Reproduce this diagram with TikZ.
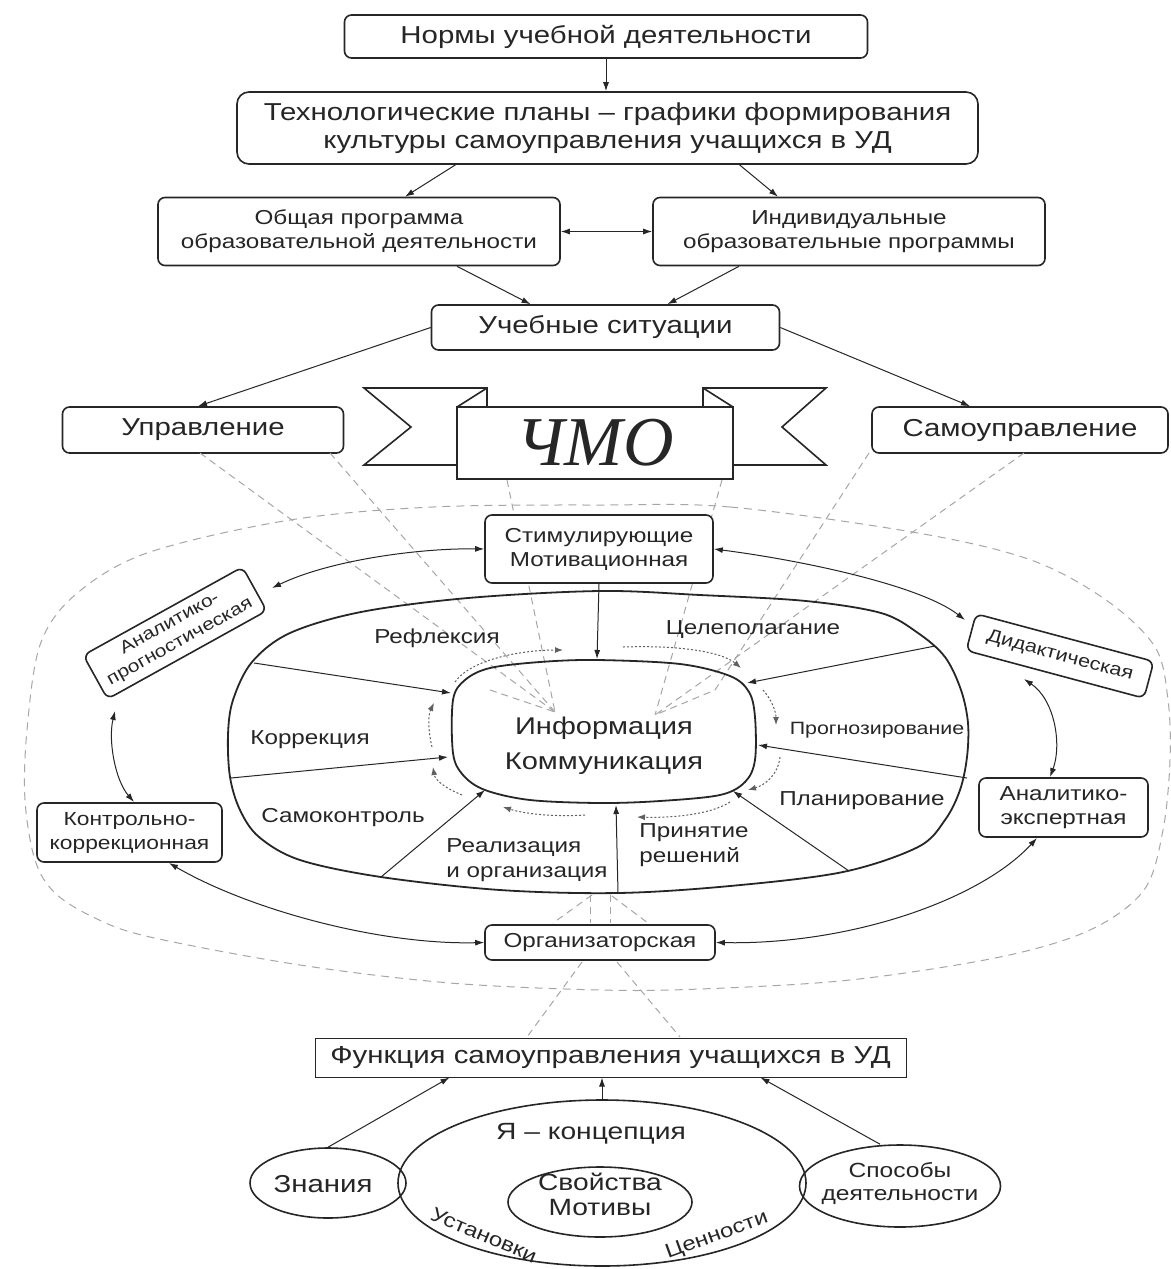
\documentclass[tikz,border=0pt]{standalone}
\usepackage{fontspec}
\setmainfont{Liberation Sans}[FakeStretch=1.2]
\newfontfamily\serifit{Liberation Serif}
\usetikzlibrary{arrows.meta,shapes.geometric}
\definecolor{ink}{HTML}{262626}
\definecolor{dashc}{HTML}{A6A6A6}
\definecolor{dotc}{HTML}{606060}
\tikzset{
  bx/.style={draw=ink, line width=1.6pt, rounded corners=7pt, fill=white, align=center, inner sep=0pt, text=ink},
  txs/.style={font=\fontsize{20.2}{24}\selectfont},
  txl/.style={font=\fontsize{24.5}{27.5}\selectfont},
  tip/.tip={Latex[length=9pt,width=6pt]},
  con/.style={draw=ink, line width=1pt, -tip},
  dcon/.style={draw=ink, line width=1pt, tip-tip},
  fan/.style={draw=dashc, line width=1pt, dash pattern=on 7pt off 5pt},
  cyc/.style={draw=dotc, line width=1pt, dash pattern=on 2pt off 2pt, -{Latex[length=8pt,width=6pt]}},
  ring/.style={draw=ink, line width=1.8pt},
  lbl/.style={font=\fontsize{20.2}{25}\selectfont, text=ink, inner sep=0pt, align=left},
  shp/.style={draw=ink, line width=1.6pt, ellipse, inner sep=0pt},
}
\begin{document}
\begin{tikzpicture}[x=1pt,y=-1pt]
\fill[white] (0,0) rectangle (1170,1269);
\useasboundingbox (0,0) rectangle (1170,1269);

% big dashed ellipse
\draw[fan, dash pattern=on 8pt off 6pt] plot[smooth cycle, tension=0.55] coordinates {(600,505) (730,507) (918,533) (1031,560) (1106,600) (1155,647) (1168,700) (1170,760) (1163,830) (1144,890) (1090,930) (1000,957) (850,980) (700,989) (600,990) (450,983) (300,965) (150,937) (95,918) (55,893) (35,860) (25,800) (27,730) (40,645) (75,595) (147,553) (290,520) (433,507)};

% top chain
\node[bx, txl, minimum width=523pt, minimum height=43pt] (norms) at (606,36.5) {Нормы учебной деятельности};
\node[bx, txl, minimum width=741pt, minimum height=72pt, rounded corners=12pt] (tech) at (607.5,128) {Технологические планы – графики формирования\\культуры самоуправления учащихся в УД};
\node[bx, txs, minimum width=402pt, minimum height=68pt] (gen) at (359,231.5) {Общая программа\\образовательной деятельности};
\node[bx, txs, minimum width=392pt, minimum height=68pt] (ind) at (849,231.5) {Индивидуальные\\образовательные программы};
\node[bx, txl, minimum width=348pt, minimum height=45pt] (sit) at (605.5,327.5) {Учебные ситуации};
\node[bx, txl, minimum width=281pt, minimum height=46pt] (upr) at (203,430) {Управление};
\node[bx, txl, minimum width=296pt, minimum height=46pt] (self) at (1020,430) {Самоуправление};

\draw[con] (norms.south) -- (norms.south |- tech.north);
\draw[con] ([xshift=-152pt]tech.south) -- ([xshift=46pt]gen.north);
\draw[con] ([xshift=132pt]tech.south) -- ([xshift=-71pt]ind.north);
\draw[dcon] (gen.east) -- (ind.west);
\draw[con] ([xshift=98pt]gen.south) -- ([xshift=-75pt]sit.north);
\draw[con] ([xshift=-110pt]ind.south) -- ([xshift=62pt]sit.north);
\draw[con] (sit.west) -- ([xshift=-5pt]upr.north);
\draw[con] (sit.east) -- ([xshift=-50pt]self.north);

% fan dashed lines
\coordinate (fl) at (555,712);
\coordinate (fr) at (655,715);
\draw[fan] (200,453) -- (fl);
\draw[fan] (330,453) -- (fl);
\draw[fan] (507,480) -- (fl);
\draw[fan] (490,690) -- (fl);
\draw[fan] (1024,453) -- (fr);
\draw[fan] (869,453) -- (715,690) -- (fr);
\draw[fan] (722,480) -- (fr);

% ribbon
\draw[ink, line width=1.6pt, line join=miter] (487,407) -- (487,388) -- (364,388) -- (411,427) -- (364,465) -- (457,465);
\draw[ink, line width=1.6pt] (457,407) -- (487,388);
\draw[ink, line width=1.6pt, line join=miter] (703,407) -- (703,388) -- (826,388) -- (782,427) -- (826,465) -- (733,465);
\draw[ink, line width=1.6pt] (733,407) -- (703,388);
\node[draw=ink, line width=1.6pt, fill=white, minimum width=276pt, minimum height=72pt, inner sep=0pt, text=ink, font=\serifit\itshape\fontsize{70}{70}\selectfont] (chmo) at (595,443) {ЧМО};

% rings
\draw[ring] plot[smooth cycle, tension=0.55] coordinates {(600,591) (700,595) (806,601) (881,613) (918,633) (945,657) (961,690) (968,723) (967,757) (960,790) (945,820) (918,847) (843,872) (730,886) (618,893) (500,890) (381,877) (300,860) (259,837) (240,810) (230,777) (228,735) (233,700) (252,662) (290,633) (361,612) (468,598)};
\draw[ring] plot[smooth cycle, tension=0.55] coordinates {(597,660) (680,664) (730,676) (749,692) (755,717) (755,760) (745,782) (720,795) (660,801) (600,803) (530,800) (485,790) (463,775) (453,753) (453,700) (465,680) (490,668) (540,662)};
\node[font=\fontsize{24.2}{35}\selectfont, text=ink, align=center, inner sep=0pt] (info) at (604,746) {Информация\\Коммуникация};

% function boxes
\node[bx, txs, minimum width=228pt, minimum height=68pt] (stim) at (599,549) {Стимулирующие\\Мотивационная};
\node[bx, rotate=29, font=\fontsize{17.5}{21}\selectfont, minimum width=182pt, minimum height=50pt] (ap) at (175,633) {Аналитико-\\прогностическая};
\node[bx, rotate=-15, font=\fontsize{18}{21}\selectfont, minimum width=184pt, minimum height=38pt] (did) at (1060,656) {Дидактическая};
\node[bx, txs, minimum width=169pt, minimum height=59pt] (ae) at (1063.5,807.5) {Аналитико-\\экспертная};
\node[bx, font=\fontsize{19}{24}\selectfont, minimum width=185pt, minimum height=59pt] (kk) at (129.5,832.5) {Контрольно-\\коррекционная};

% ring labels
\node[lbl] (refl) at (437,638) {Рефлексия};
\node[lbl] (goal) at (753,630) {Целеполагание};
\node[lbl, font=\fontsize{17.8}{20}\selectfont] (prog) at (877,730) {Прогнозирование};
\node[lbl] (plan) at (862,801) {Планирование};
\node[lbl] (dec) at (694,845) {Принятие\\решений};
\node[lbl] (real) at (527,860) {Реализация\\и организация};
\node[lbl] (sctl) at (343,818) {Самоконтроль};
\node[lbl] (corr) at (310,740) {Коррекция};

% arrows ring -> inner
\coordinate (i0) at (597,659);
\coordinate (o1) at (254,663); \coordinate (i1) at (451,693);
\coordinate (o2) at (231,778); \coordinate (i2) at (448,757);
\coordinate (o3) at (381,877); \coordinate (i3) at (485,790);
\coordinate (o4) at (618,893); \coordinate (i4) at (616,805);
\coordinate (o5) at (849,871); \coordinate (i5) at (733,791);
\coordinate (o6) at (967,778); \coordinate (i6) at (758,745);
\coordinate (o7) at (935,646); \coordinate (i7) at (747,683);
\draw[con] (stim.south) -- (i0);
\draw[con] (o1) -- (i1);
\draw[con] (o2) -- (i2);
\draw[con] (o3) -- (i3);
\draw[con] (o4) -- (i4);
\draw[con] (o5) -- (i5);
\draw[con] (o6) -- (i6);
\draw[con] (o7) -- (i7);

% dotted cycle
\draw[cyc] (455,682) .. controls (470,660) and (520,650) .. (563,650);
\draw[cyc] (623,647) .. controls (680,645) and (722,652) .. (741,668);
\draw[cyc] (763,690) .. controls (772,700) and (776,712) .. (776,725);
\draw[cyc] (780,757) .. controls (778,775) and (765,785) .. (748,790);
\draw[cyc] (730,802) .. controls (710,815) and (670,818) .. (637,817);
\draw[cyc] (585,815) .. controls (555,817) and (525,814) .. (503,807);
\draw[cyc] (462,795) .. controls (445,788) and (435,780) .. (433,767);
\draw[cyc] (432,747) .. controls (428,730) and (428,715) .. (434,703);

% bottom dashed
\draw[fan] (592,895) -- (553,923);
\draw[fan] (590,895) -- (590,923);
\draw[fan] (610,895) -- (610,923);
\draw[fan] (612,896) -- (648,923);
\draw[fan] (582,962) -- (527,1037);
\draw[fan] (617,962) -- (680,1037);

\node[bx, txs, minimum width=230pt, minimum height=35pt] (org) at (600,942.5) {Организаторская};

% double arrows between function boxes
\coordinate (ap1) at (272,588); \coordinate (ap2) at (115,711);
\coordinate (did1) at (965,620); \coordinate (did2) at (1024,679);
\coordinate (ae1) at (1050,777); \coordinate (ae2) at (1037,838);
\coordinate (kk1) at (134,802); \coordinate (kk2) at (169,863);
\draw[dcon] (ap1) .. controls (330,560) and (420,548) .. (stim.west);
\draw[dcon] (stim.east) .. controls (800,560) and (920,585) .. (did1);
\draw[dcon] (did2) .. controls (1055,700) and (1062,745) .. (ae1);
\draw[dcon] (ae2) .. controls (980,900) and (850,945) .. (org.east);
\draw[dcon] (org.west) .. controls (380,945) and (250,910) .. (kk2);
\draw[dcon] (kk1) .. controls (115,780) and (108,740) .. (ap2);

% bottom part
\node[draw=ink, line width=1pt, fill=white, txl, text=ink, minimum width=591pt, minimum height=39pt, inner sep=0pt] (func) at (610.5,1057.5) {Функция самоуправления учащихся в УД};
\node[shp, minimum width=408pt, minimum height=166pt] (selfc) at (602,1183) {};
\node[shp, minimum width=156pt, minimum height=70pt] (know) at (328,1183) {};
\node[shp, minimum width=184pt, minimum height=70pt] (prop) at (600,1202) {};
\node[shp, minimum width=201pt, minimum height=82pt] (ways) at (900,1186) {};
\node[font=\fontsize{23.5}{26}\selectfont, text=ink, inner sep=0pt] (selfct) at (591,1134) {Я – концепция};
\node[font=\fontsize{24.5}{26}\selectfont, text=ink, inner sep=0pt] (knowt) at (323,1184) {Знания};
\node[font=\fontsize{23.5}{25}\selectfont, text=ink, inner sep=0pt, align=center] (propt) at (600,1194) {Свойства\\Мотивы};
\node[font=\fontsize{20.5}{23}\selectfont, text=ink, inner sep=0pt, align=center] (wayst) at (900,1184) {Способы\\деятельности};
\node[font=\fontsize{20}{24}\selectfont, text=ink, inner sep=0pt, rotate=-23] (inst) at (484,1235) {Установки};
\node[font=\fontsize{20}{24}\selectfont, text=ink, inner sep=0pt, rotate=20] (vals) at (717,1236) {Ценности};
\draw[con] (know.north) -- ([xshift=-161pt]func.south);
\draw[con] (selfc.north) -- (selfc.north |- func.south);
\draw[con] ([xshift=-20pt]ways.north) -- ([xshift=150pt]func.south);
\end{tikzpicture}
\end{document}
